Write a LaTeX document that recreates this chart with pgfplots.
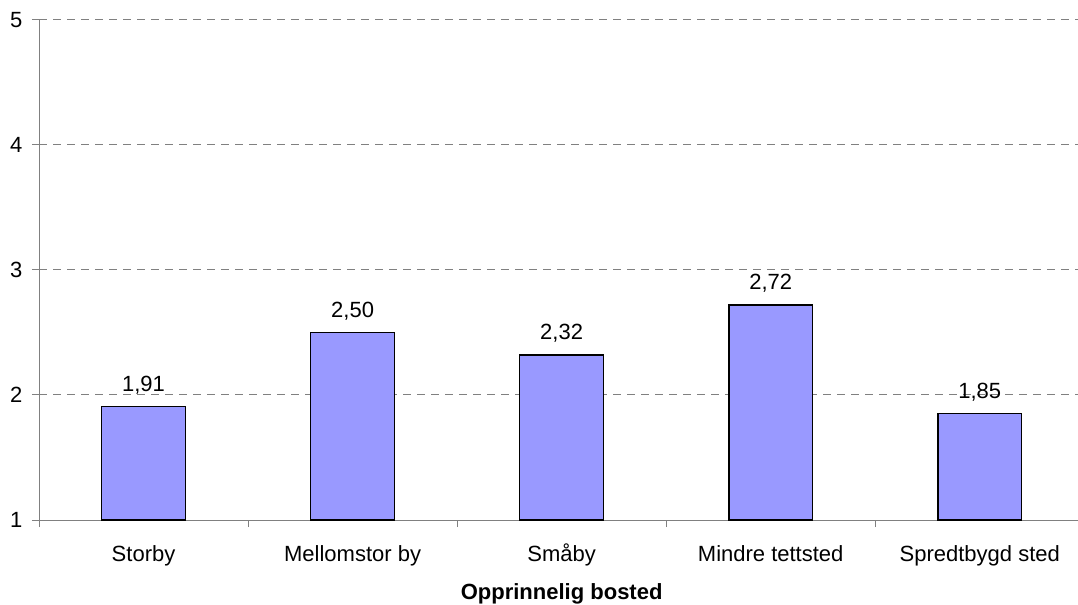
\documentclass[border=0pt]{standalone}
\usepackage{pgfplots}
\pgfplotsset{compat=1.18}
\usepackage{fontspec}
\setmainfont{Liberation Sans}
\definecolor{barblue}{HTML}{9999FF}
\definecolor{axisgray}{HTML}{808080}
\begin{document}
\fontsize{22bp}{26bp}\selectfont
\begin{tikzpicture}
\useasboundingbox (-39bp,-85bp) rectangle (1039bp,520bp);
\begin{axis}[
    at={(0,0)}, anchor=south west,
    scale only axis,
    width=1039bp, height=500bp,
    xmin=-0.5, xmax=4.47,
    ymin=1, ymax=5,
    ybar, bar width=0.4,
    axis x line*=bottom, axis y line*=left,
    axis line style={axisgray, line width=1bp},
    tick align=outside,
    major tick length=7bp,
    tick style={axisgray, line width=1bp},
    xtick={-0.5,0.5,1.5,2.5,3.5},
    xticklabels={},
    extra x ticks={0,1,2,3,4},
    extra x tick labels={Storby, Mellomstor by, Småby, Mindre tettsted, Spredtbygd sted},
    extra x tick style={major tick length=0pt},
    ytick={1,...,5},
    ymajorgrids,
    grid style={axisgray, line width=1bp, dash pattern=on 8bp off 6bp},
    /pgf/number format/assume math mode=true,
    xticklabel style={font=\fontsize{22bp}{26bp}\selectfont, text height=17bp, text depth=5bp, yshift=-17bp},
    yticklabel style={font=\fontsize{22bp}{26bp}\selectfont, xshift=-2bp},
    xlabel={\textbf{Opprinnelig bosted}},
    xlabel style={at={(axis cs:2,1)}, anchor=base, yshift=-79bp, font=\fontsize{22bp}{26bp}\selectfont},
    nodes near coords,
    nodes near coords style={anchor=base, yshift=15bp, black, font=\fontsize{22bp}{26bp}\selectfont,
      /pgf/number format/.cd, fixed, fixed zerofill, precision=2, use comma},
  ]
\addplot[fill=barblue, draw=black, line width=1.3bp] coordinates {(0,1.91) (1,2.50) (2,2.32) (3,2.72) (4,1.85)};
\end{axis}
\end{tikzpicture}
\end{document}
